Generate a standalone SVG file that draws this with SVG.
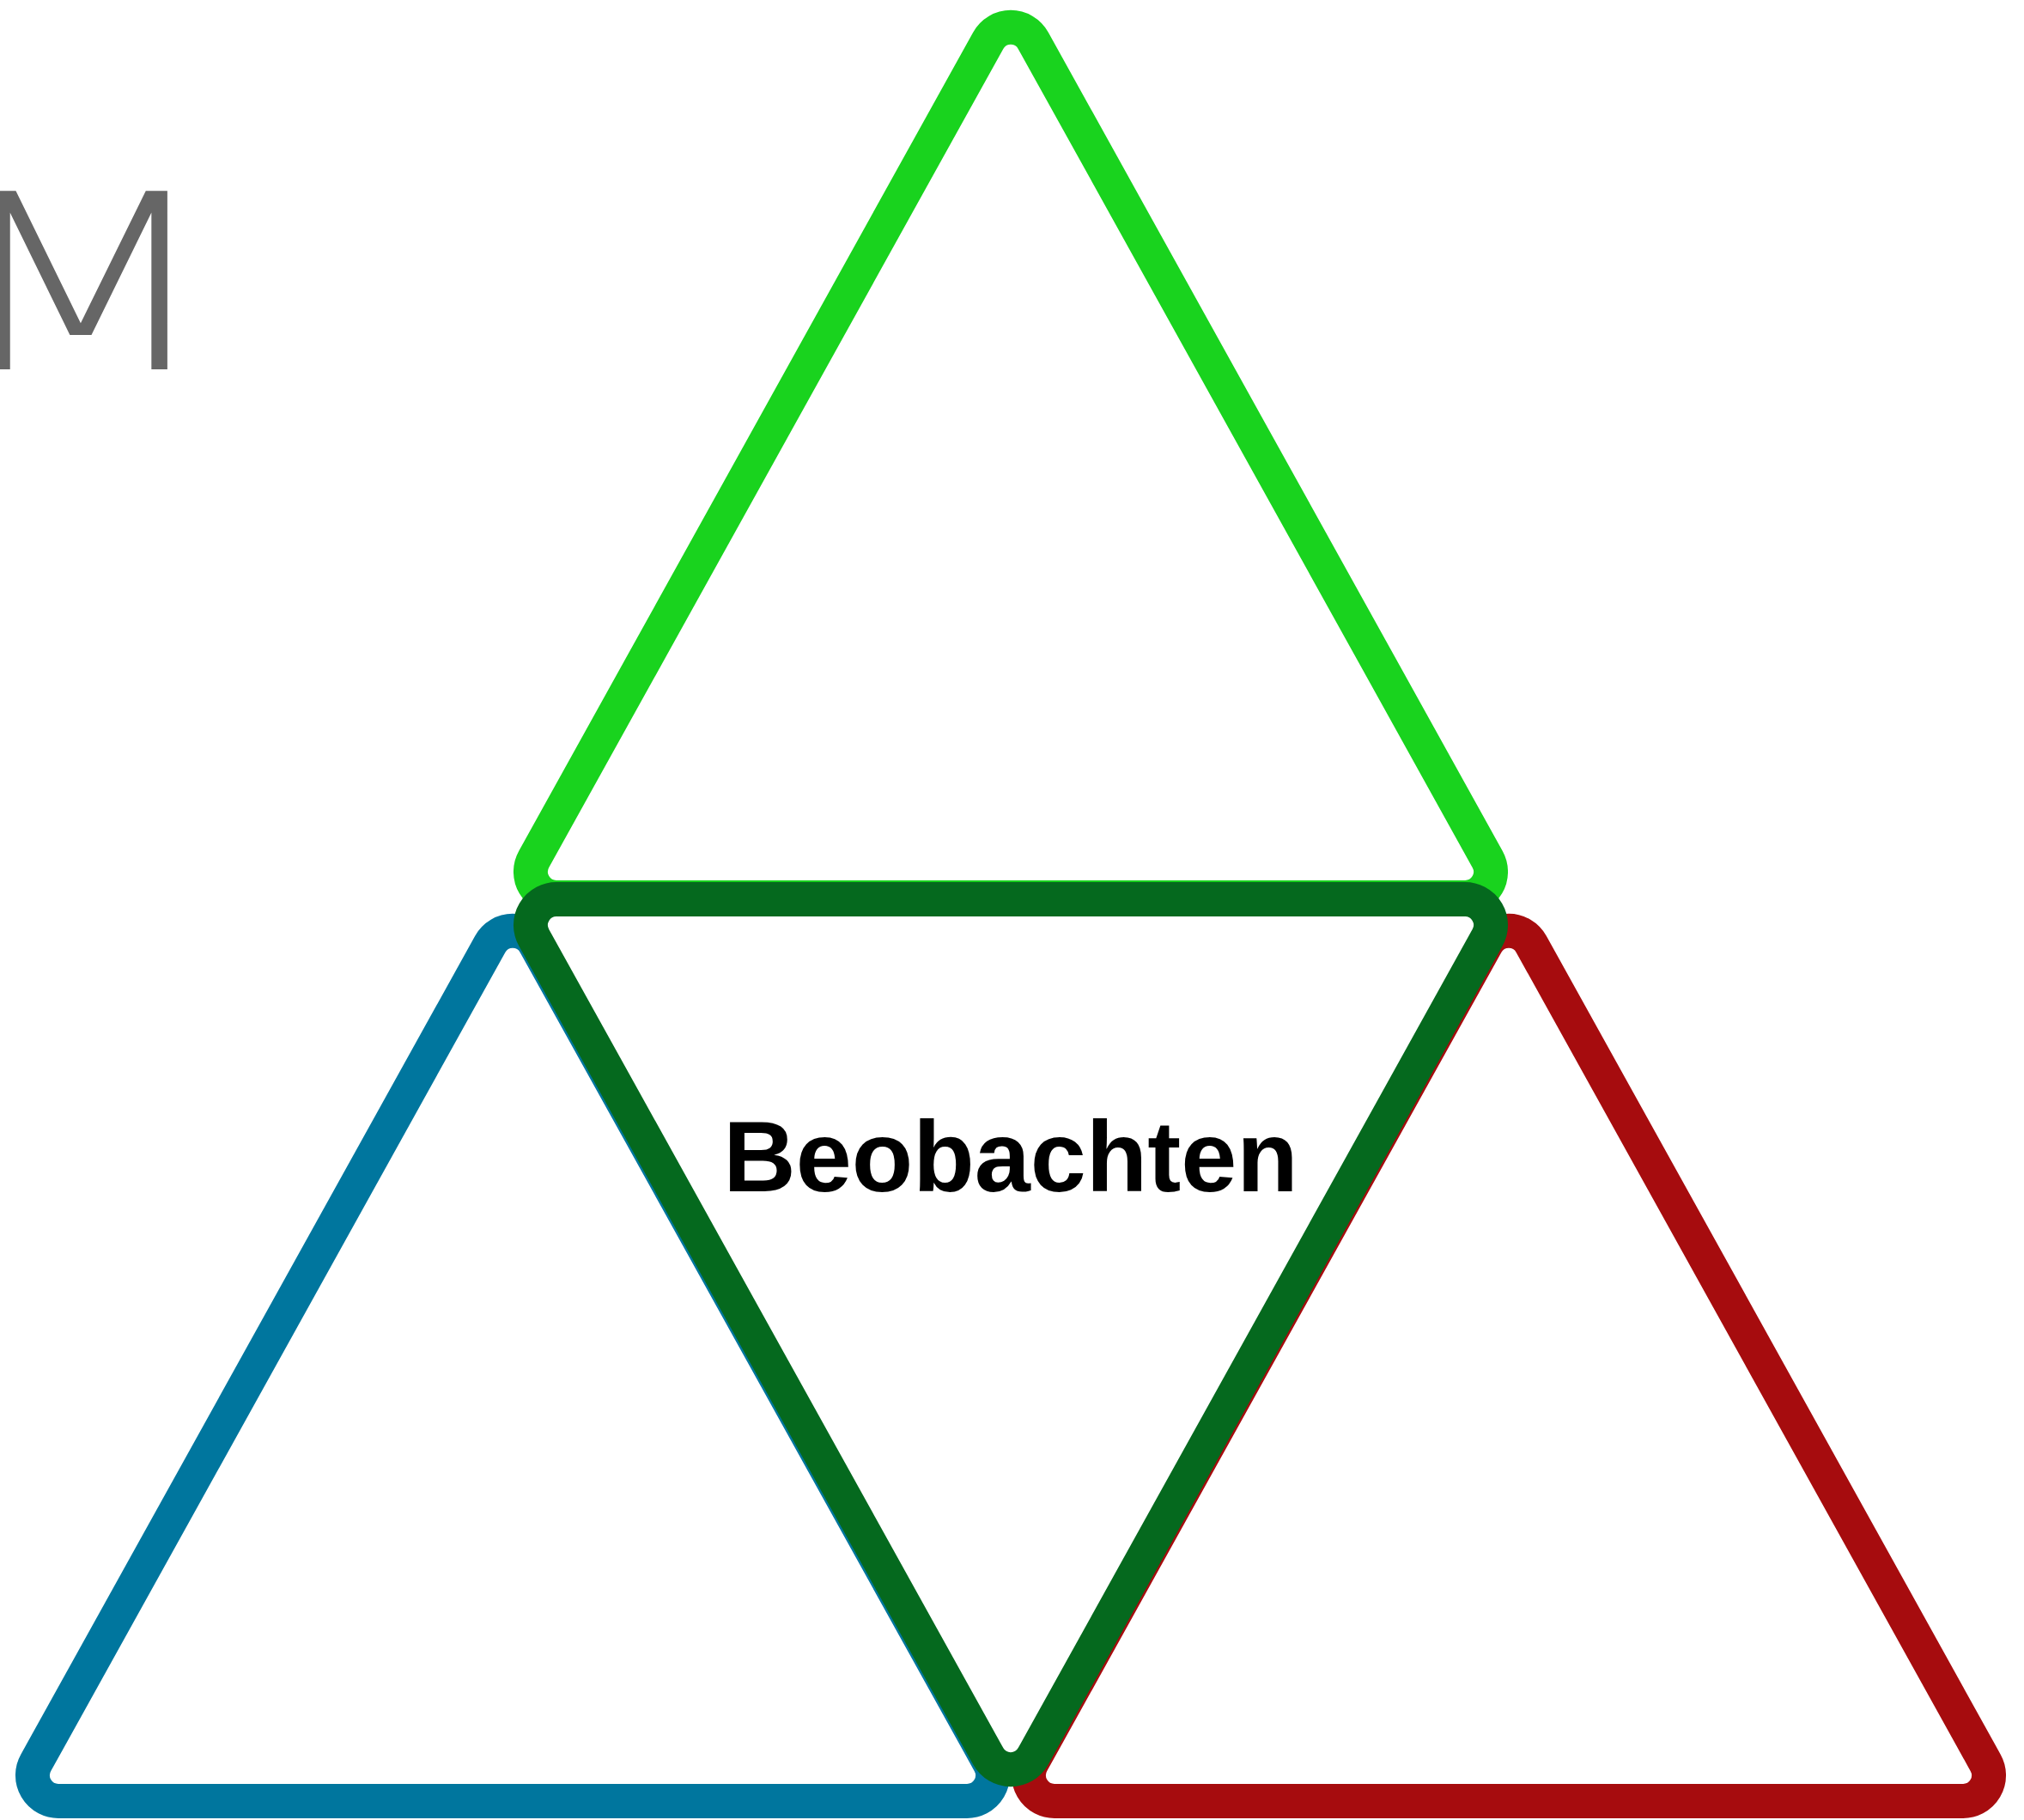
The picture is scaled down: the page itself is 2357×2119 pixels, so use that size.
<svg xmlns="http://www.w3.org/2000/svg" xmlns:xlink="http://www.w3.org/1999/xlink" width="2357" height="2119" viewBox="0 0 2357 2119">
  <style>
    .tri { fill: none; stroke-width: 40; stroke-linejoin: round; }
    .green { stroke: #19D31E; }
    .dark { stroke: #05691E; }
    .blue { stroke: #00769E; }
    .red { stroke: #A60C0E; }
    .label { font-family: "Liberation Sans", Arial, sans-serif; font-weight: bold; font-size: 117px; fill: #000; }
    .mark { font-family: "DejaVu Sans", "Open Sans", sans-serif; font-weight: 200; font-size: 285px; fill: #666666; }
  </style>
  <defs>
    <path id="tri" d="M -26.2 47.2 L -555.25 1000.4 A 30 30 0 0 0 -529 1045 L 529 1045 A 30 30 0 0 0 555.25 1000.4 L 26.2 47.2 A 30 30 0 0 0 -26.2 47.2 Z"/>
  </defs>
  <rect x="0" y="0" width="2357" height="2119" fill="#ffffff"/>
  <g id="title">
    <text class="mark" x="-51" y="430" transform="scale(1.307,1)">M</text>
  </g>
  <g id="connectors"></g>
  <g id="node-green">
    <use xlink:href="#tri" href="#tri" class="tri green" transform="translate(1177,0)"/>
  </g>
  <g id="node-blue">
    <use xlink:href="#tri" href="#tri" class="tri blue" transform="translate(597,1052)"/>
  </g>
  <g id="node-red">
    <use xlink:href="#tri" href="#tri" class="tri red" transform="translate(1757,1052)"/>
  </g>
  <g id="node-center">
    <use xlink:href="#tri" href="#tri" class="tri dark" transform="translate(1177,2092) scale(1,-1)"/>
    <text class="label" x="1177" y="1387" text-anchor="middle">Beobachten</text>
  </g>
</svg>
